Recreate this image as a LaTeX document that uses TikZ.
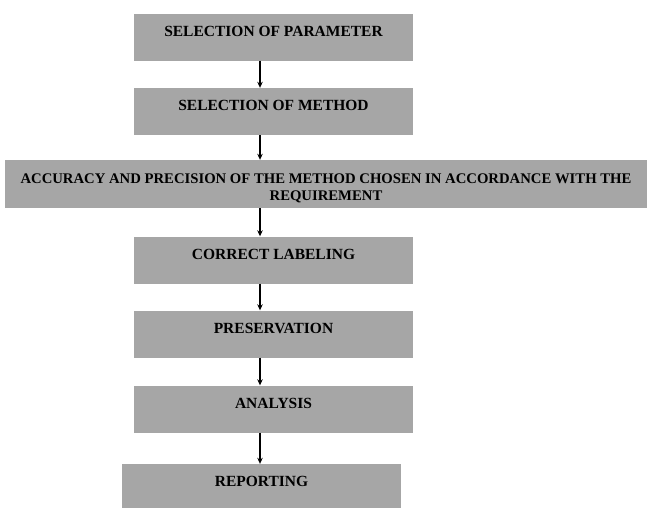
\documentclass[tikz,border=0pt]{standalone}
\usepackage{fontspec}
\setmainfont{Liberation Serif}
\usetikzlibrary{arrows.meta}
\definecolor{boxgray}{HTML}{A6A6A6}
\begin{document}
\begin{tikzpicture}[x=1pt,y=-1pt,
  basebox/.style={fill=boxgray, inner sep=0pt, font=\bfseries\fontsize{15.5}{17}\selectfont},
  box/.style={basebox, minimum width=279pt, minimum height=47pt, text height=9pt, text depth=11pt},
  arr/.style={-{Stealth[length=6pt,width=5.5pt]}, line width=1.2pt}]
\useasboundingbox (0,0) rectangle (651,507);
\coordinate (ax) at (260,0);
\node[box] (p) at (273.5,37) {SELECTION OF PARAMETER};
\node[box] (m) at (273.5,111.5) {SELECTION OF METHOD};
\node[basebox, minimum width=642pt, minimum height=48pt] (a) at (326,184) {};
\node[inner sep=0pt, align=center, font=\bfseries\fontsize{14.7}{17}\selectfont] (at) at ([yshift=-4pt]a.center)
  {ACCURACY AND PRECISION OF THE METHOD CHOSEN IN ACCORDANCE WITH THE\\REQUIREMENT};
\node[box] (l) at (273.5,260) {CORRECT LABELING};
\node[box] (s) at (273.5,334) {PRESERVATION};
\node[box] (n) at (273.5,409) {ANALYSIS};
\node[box, minimum height=46pt] (r) at (261.5,487) {REPORTING};
\draw[arr] (p.south -| ax) -- (m.north -| ax);
\draw[arr] (m.south -| ax) -- (a.north -| ax);
\draw[arr] (a.south -| ax) -- (l.north -| ax);
\draw[arr] (l.south -| ax) -- (s.north -| ax);
\draw[arr] (s.south -| ax) -- (n.north -| ax);
\draw[arr] (n.south -| ax) -- (r.north -| ax);
\end{tikzpicture}
\end{document}
